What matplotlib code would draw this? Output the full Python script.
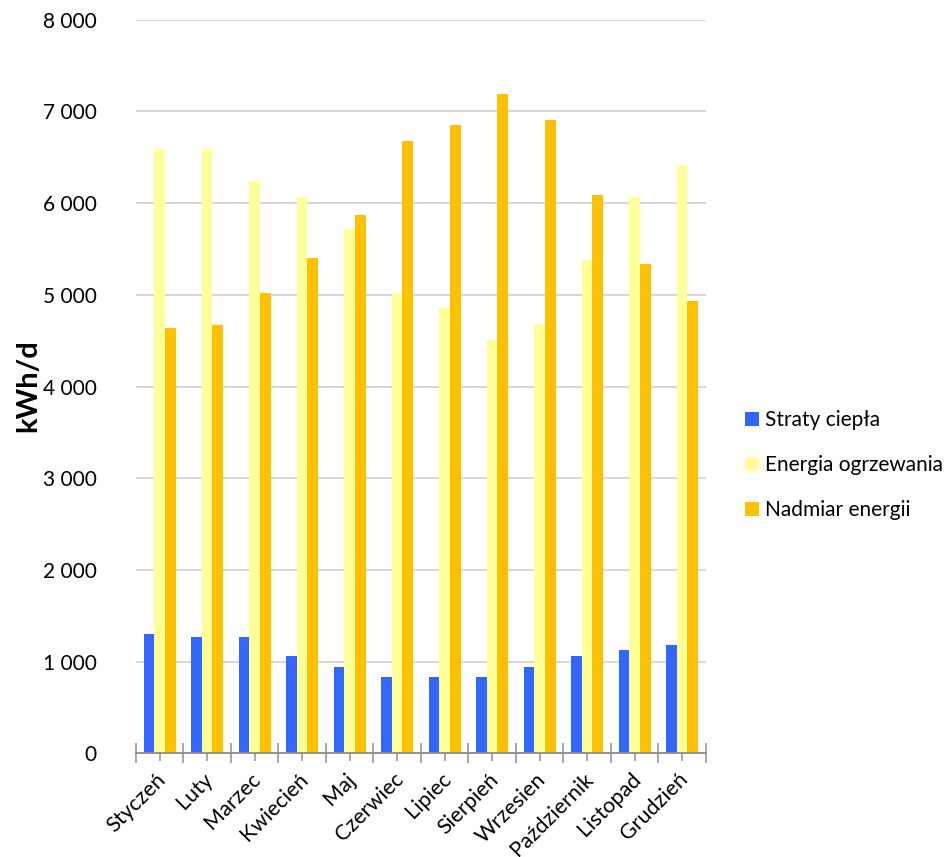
import matplotlib
matplotlib.use("Agg")
import matplotlib.pyplot as plt
from matplotlib.ticker import FuncFormatter, MultipleLocator, FixedLocator
from matplotlib.patches import Patch
from matplotlib.transforms import ScaledTranslation
import numpy as np

matplotlib.rcParams['font.family'] = ['Lato', 'DejaVu Sans']

months = ["Styczeń", "Luty", "Marzec", "Kwiecień", "Maj", "Czerwiec",
          "Lipiec", "Sierpień", "Wrzesien", "Październik", "Listopad", "Grudzień"]
straty = [1300, 1270, 1270, 1065, 945, 830, 830, 830, 945, 1065, 1125, 1185]
ogrzewanie = [6590, 6590, 6240, 6070, 5715, 5025, 4855, 4505, 4680, 5375, 6070, 6415]
nadmiar = [4640, 4670, 5015, 5400, 5865, 6675, 6850, 7195, 6905, 6090, 5340, 4930]
series_names = ["Straty ciepła", "Energia ogrzewania", "Nadmiar energii"]
colors = ["#3366FF", "#FFFF99", "#FFC000"]

fig = plt.figure(figsize=(9.5, 8.57), dpi=100)
ax = fig.add_axes([0.143, 0.121, 0.600, 0.856])

x = np.arange(len(months))
w = 0.225
for k, vals in enumerate([straty, ogrzewanie, nadmiar]):
    ax.bar(x + (k - 1) * w, vals, width=w, color=colors[k], zorder=2)

ax.set_xlim(-0.5, len(months) - 0.5)
ax.set_ylim(0, 8000)
ax.yaxis.set_major_locator(MultipleLocator(1000))
ax.yaxis.set_major_formatter(FuncFormatter(lambda v, p: f"{int(v):,}".replace(",", " ")))
ax.grid(axis='y', color='#d4d4d4', linewidth=1.3, zorder=0)
ax.set_axisbelow(True)

for s in ['top', 'right', 'left']:
    ax.spines[s].set_visible(False)
ax.spines['bottom'].set_color('#8c8c8c')
ax.spines['bottom'].set_linewidth(1.3)
ax.spines['bottom'].set_zorder(3)

ax.tick_params(axis='y', length=0, labelsize=15, pad=28)
ax.xaxis.set_major_locator(FixedLocator(np.arange(-0.5, len(months), 1.0)))
ax.xaxis.set_minor_locator(FixedLocator(x))
ax.tick_params(axis='x', which='major', direction='inout', length=14, width=1.3,
               color='#a0a0a0', labelbottom=False)
ax.tick_params(axis='x', which='minor', direction='inout', length=11, width=1.3,
               color='#a0a0a0', labelsize=15.5, pad=11)
ax.set_xticks(x, months, minor=True, rotation=45, ha='right', va='center',
              rotation_mode='anchor')
shift = ScaledTranslation(3 / 100, 0, fig.dpi_scale_trans)
for lbl in ax.get_xticklabels(minor=True):
    lbl.set_transform(lbl.get_transform() + shift)

ax.set_ylabel("kWh/d", fontsize=21, fontweight='bold')
ax.yaxis.set_label_coords(-0.166, 0.501)

handles = [Patch(facecolor=c, label=n) for c, n in zip(colors, series_names)]
fig.legend(handles=handles, loc='center left', bbox_to_anchor=(0.764, 0.457),
           frameon=False, fontsize=15, handlelength=0.7, handleheight=0.7,
           handletextpad=0.3, labelspacing=1.2)

fig.savefig("out.png", dpi=100)
